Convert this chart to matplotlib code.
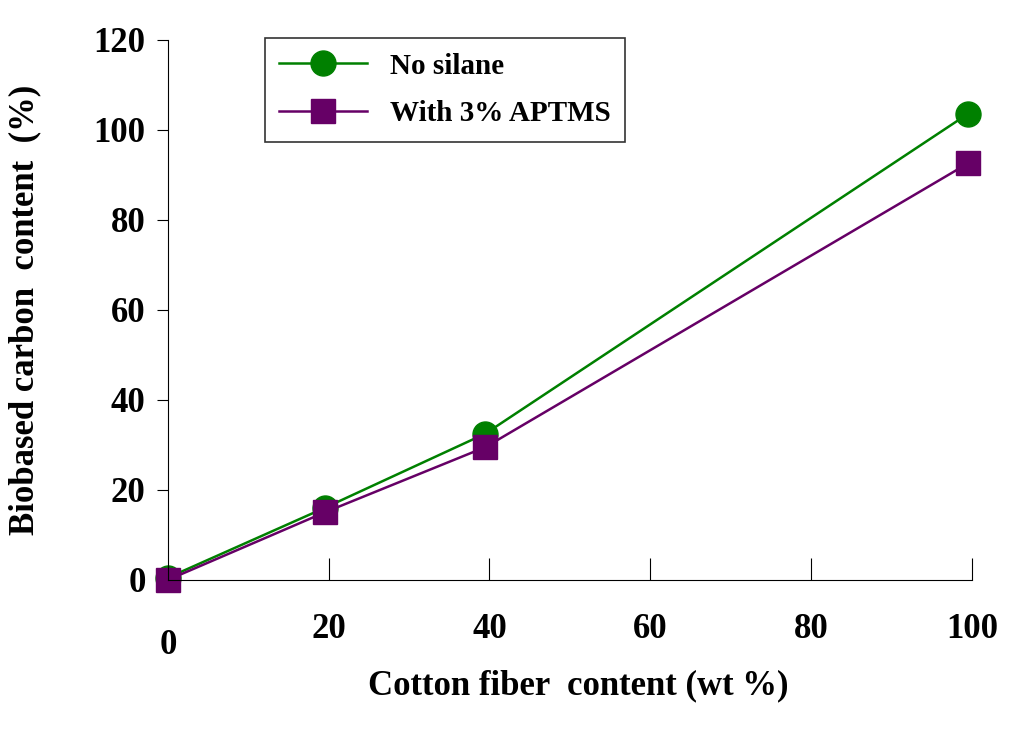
import matplotlib
matplotlib.use("Agg")
import matplotlib.pyplot as plt

x_none = [0, 19.5, 39.5, 99.5]
y_none = [0.5, 16, 32.5, 103.5]
x_apt = [0, 19.5, 39.5, 99.5]
y_apt = [0, 15, 29.5, 92.5]
xticks = [20, 40, 60, 80, 100]
yticks = [0, 20, 40, 60, 80, 100, 120]

plt.rcParams['font.family'] = 'Liberation Serif'
plt.rcParams['font.weight'] = 'bold'
fig = plt.figure(figsize=(10.24, 7.35), dpi=100)
ax = fig.add_axes([0.164, 0.211, 0.785, 0.735])
ax.plot(x_none, y_none, color='#008000', marker='o', markersize=18, lw=1.8, label='No silane')
ax.plot(x_apt, y_apt, color='#660066', marker='s', markersize=17, lw=1.8, label='With 3% APTMS')
ax.set_xlim(0, 100)
ax.set_ylim(0, 120)
ax.spines['top'].set_visible(False)
ax.spines['right'].set_visible(False)
ax.set_xticks(xticks)
ax.set_yticks(yticks)
ax.tick_params(axis='x', direction='in', length=16, labelsize=25, pad=24)
ax.tick_params(axis='y', direction='out', length=8, labelsize=25, pad=8)
ax.text(0, -14.5, '0', ha='center', va='center', fontsize=25, fontweight='bold')
for lb in ax.get_xticklabels() + ax.get_yticklabels():
    lb.set_fontweight('bold')
ax.set_xlabel('Cotton fiber  content (wt %)', fontsize=25, fontweight='bold', labelpad=28)
ax.xaxis.set_label_coords(0.51, -0.165)
ax.set_ylabel('Biobased carbon  content  (%)', fontsize=25, fontweight='bold')
ax.yaxis.set_label_coords(-0.158, 0.5)
for l in ax.lines:
    l.set_clip_on(False)
leg = ax.legend(loc='upper left', bbox_to_anchor=(0.102, 1.03), frameon=True,
                fancybox=False, edgecolor='black', borderpad=0.5, labelspacing=0.7,
                handlelength=3, prop={'weight': 'bold', 'size': 21})
leg.get_frame().set_linewidth(1.2)
fig.savefig('out.png', dpi=100)
